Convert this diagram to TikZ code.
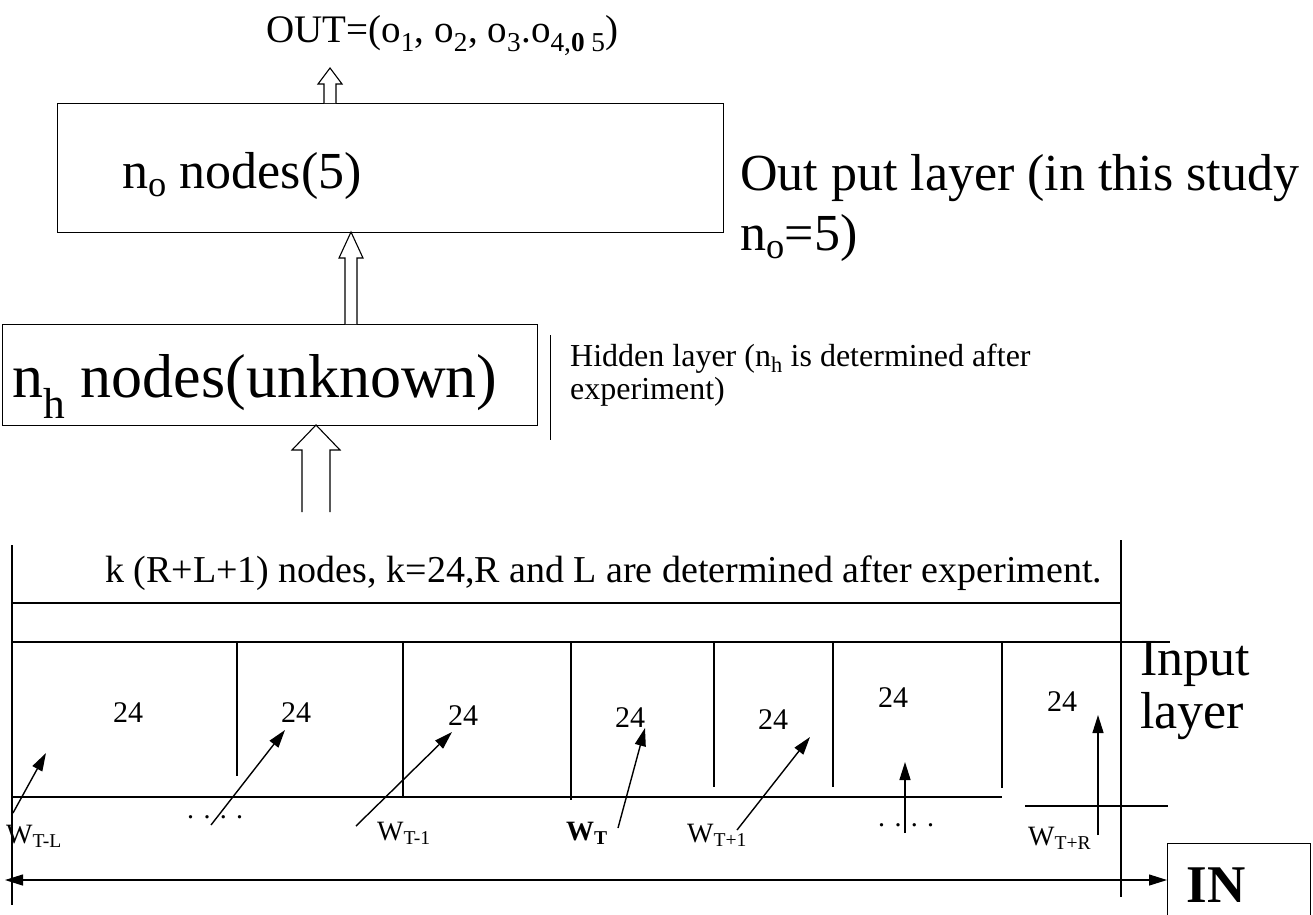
\documentclass[tikz,border=0pt]{standalone}
\usepackage{fontspec}
\setmainfont{Liberation Serif}
\usetikzlibrary{arrows.meta,positioning}

\tikzset{
  layerbox/.style={draw, line width=1.3pt, inner sep=0pt},
  hollow/.style={draw, line width=1.1pt, fill=white},
  txt/.style={inner sep=0pt, anchor=base west},
  lbl/.style={txt, font=\fontsize{28}{32}\selectfont},
  cellnum/.style={inner sep=0pt, font=\fontsize{30}{34}\selectfont},
  wire/.style={line width=1.2pt},
}

\begin{document}
\begin{tikzpicture}[x=1pt, y=-1pt, >={Triangle[length=18pt,width=11pt]}]
	\useasboundingbox (0,0) rectangle (1313,914);

	% output layer
	\node[txt, font=\fontsize{39}{44}\selectfont] (out) at (266,42)
		{OUT=(o\textsubscript{1}, o\textsubscript{2}, o\textsubscript{3}.o\textsubscript{4,\textbf{0} 5})};
	\node[layerbox, anchor=north west, minimum width=666, minimum height=129] (obox) at (57,103) {};
	\node[txt, font=\fontsize{52}{58}\selectfont] (otxt) at (122,188) {n\textsubscript{o} nodes(5)};
	\node[txt, font=\fontsize{52}{58}\selectfont] (olab1) at (740,190) {Out put layer (in this study};
	\node[txt, font=\fontsize{52}{58}\selectfont] (olab2) at (740,250) {n\textsubscript{o}=5)};
	\filldraw[hollow] (324,103) -- (324,84) -- (318,84) -- (330,68) -- (342,84) -- (336,84) -- (336,103);

	% hidden layer
	\node[layerbox, anchor=north west, minimum width=535, minimum height=101] (hbox) at (2,324) {};
	\node[txt, font=\fontsize{62}{68}\selectfont] (htxt) at (12,397) {n\textsubscript{h} nodes(unknown)};
	\draw[line width=1pt] (550,335) -- (550,440);
	\node[txt, font=\fontsize{32}{36}\selectfont] (hlab1) at (570,366) {Hidden layer (n\textsubscript{h} is determined after};
	\node[txt, font=\fontsize{32}{36}\selectfont] (hlab2) at (570,399) {experiment)};
	\filldraw[hollow] (345,324) -- (345,258) -- (339,258) -- (351,232) -- (363,258) -- (357,258) -- (357,324);
	\filldraw[hollow] (302,512) -- (302,450) -- (292,450) -- (316,425) -- (340,450) -- (330,450) -- (330,512);

	% input layer
	\node[txt, font=\fontsize{38}{44}\selectfont] (itop) at (105,582)
		{k (R+L+1) nodes, k=24,R and L are determined after experiment.};
	\draw[wire] (12,545) -- (12,905);
	\draw[wire] (1121,540) -- (1121,897);
	\draw[wire] (12,603) -- (1121,603);
	\draw[wire] (12,642) -- (1170,642);
	\draw[wire] (12,797) -- (1002,797);
	\draw[wire] (1025,806) -- (1168,806);
	\foreach \x/\b in {237/776, 403/797, 571/800, 714/787, 833/787, 1002/788}
		\draw[wire] (\x,642) -- (\x,\b);
	\node[txt, font=\fontsize{52}{58}\selectfont] (ilab1) at (1140,675) {Input};
	\node[txt, font=\fontsize{52}{58}\selectfont] (ilab2) at (1140,728) {layer};

	\foreach \x/\y [count=\i] in {128/713, 296/713, 463/716, 630/718, 773/720, 893/698, 1062/702}
		\node[cellnum] (c\i) at (\x,\y) {24};

	\node[lbl] (w1) at (6,843) {W\textsubscript{T-L}};
	\node[lbl] (d1) at (187,818) {.\,\,.\,\,.\,\,.};
	\node[lbl] (w2) at (377,840) {W\textsubscript{T-1}};
	\node[lbl] (w3) at (566,840) {\textbf{W\textsubscript{T}}};
	\node[lbl] (w4) at (687,842) {W\textsubscript{T+1}};
	\node[lbl] (d2) at (878,826) {.\,\,.\,\,.\,\,.};
	\node[lbl] (w5) at (1028,845) {W\textsubscript{T+R}};

	\foreach \n/\tx/\ty/\hx/\hy in {1/13/813/46/753, 2/211/825/285/730, 3/356/826/452/732, 4/618/828/645/728,
		5/737/830/810/737, 6/905/833/905/762, 7/1098/835/1098/715} {
		\coordinate (t\n) at (\tx,\ty);
		\coordinate (h\n) at (\hx,\hy);
		\draw[->, line width=1.4pt] (t\n) -- (h\n);
	}

	% IN
	\node[layerbox, anchor=north west, minimum width=143, minimum height=90] (inbox) at (1167,843) {};
	\node[inner sep=0pt, font=\fontsize{53}{58}\selectfont\bfseries] (intxt) at (1216,885) {IN};
	\coordinate (lend) at (5,880);
	\draw[<->, wire] (lend) -- (lend -| inbox.west);
\end{tikzpicture}
\end{document}
